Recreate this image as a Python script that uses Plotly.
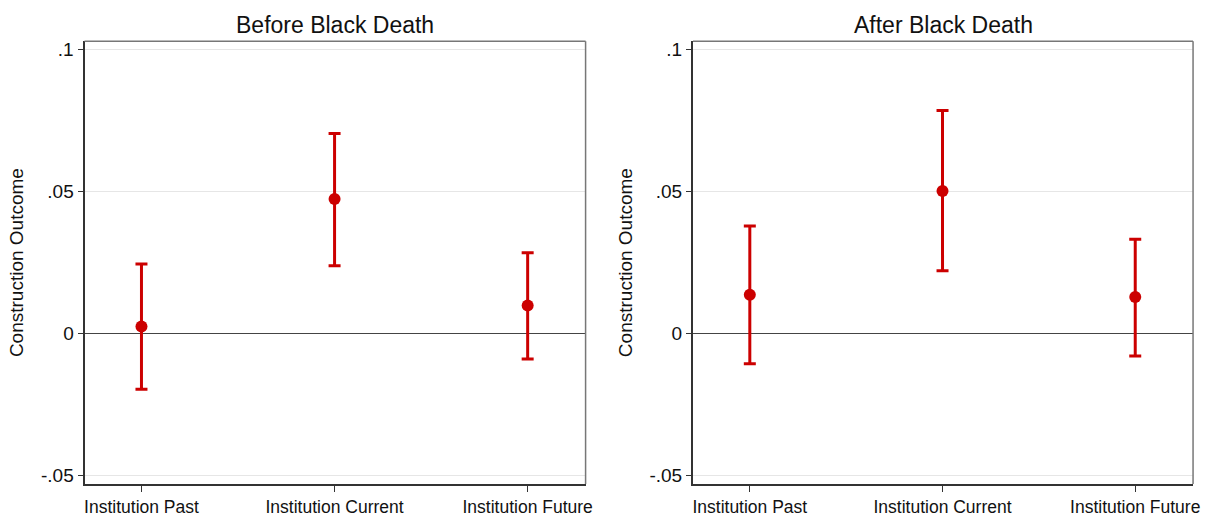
import plotly.graph_objects as go

categories = ["Institution Past", "Institution Current", "Institution Future"]

before_est = [0.0024, 0.0473, 0.0098]
before_lo = [-0.0197, 0.0238, -0.0091]
before_hi = [0.0244, 0.0704, 0.0284]

after_est = [0.0136, 0.0501, 0.0128]
after_lo = [-0.0107, 0.0220, -0.0080]
after_hi = [0.0378, 0.0785, 0.0331]

titles = ["Before Black Death", "After Black Death"]
y_ticks = [-0.05, 0, 0.05, 0.1]
y_ticktext = ["-.05", "0", ".05", ".1"]

RED = "#cc0000"
FONT = "Liberation Sans, Arial, Helvetica, sans-serif"

W, H = 1209, 517

fig = go.Figure()

panels = [(before_est, before_lo, before_hi), (after_est, after_lo, after_hi)]
x_domains = [[85 / W, 589 / W], [697 / W, 1200 / W]]
y_domain = [1 - 491.5 / H, 1 - 40 / H]

for i, (est, lo, hi) in enumerate(panels):
    xa = "x" if i == 0 else "x2"
    ya = "y" if i == 0 else "y2"
    fig.add_trace(go.Scatter(
        x=categories, y=est, mode="markers",
        xaxis=xa, yaxis=ya,
        marker=dict(color=RED, size=12),
        error_y=dict(type="data", symmetric=False,
                     array=[h - e for h, e in zip(hi, est)],
                     arrayminus=[e - l for e, l in zip(est, lo)],
                     color=RED, thickness=3, width=6),
        showlegend=False,
    ))

axis_common_x = dict(
    type="category", range=[-0.295, 2.3],
    showline=True, linecolor="#333", linewidth=2,
    ticks="outside", ticklen=6, tickcolor="#333", tickwidth=1,
    showgrid=False, zeroline=False,
    tickfont=dict(family=FONT, size=17.5, color="#111"),
)
axis_common_y = dict(
    range=[-0.0531, 0.1029],
    tickvals=y_ticks, ticktext=y_ticktext,
    showline=True, linecolor="#333", linewidth=2,
    ticks="outside", ticklen=5, tickcolor="#333", tickwidth=1,
    showgrid=True, gridcolor="#e6e6e6", gridwidth=1,
    zeroline=True, zerolinecolor="#444", zerolinewidth=1,
    tickfont=dict(family=FONT, size=19, color="#111"),
    title=dict(text="Construction Outcome", font=dict(family=FONT, size=19, color="#111"), standoff=12),
    domain=y_domain,
)

fig.update_layout(
    width=W, height=H,
    margin=dict(l=0, r=0, t=0, b=0),
    paper_bgcolor="white", plot_bgcolor="white",
    xaxis=dict(axis_common_x, domain=x_domains[0], anchor="y"),
    yaxis=dict(axis_common_y, anchor="x"),
    xaxis2=dict(axis_common_x, domain=x_domains[1], anchor="y2"),
    yaxis2=dict(axis_common_y, anchor="x2"),
    font=dict(family=FONT),
)

for i, ax in enumerate(["x", "x2"]):
    ya = "y" if i == 0 else "y2"
    fig.add_shape(type="line", xref=f"{ax} domain", yref=f"{ya} domain",
                  x0=0, x1=1, y0=1, y1=1, line=dict(color="#777", width=1.5))
    fig.add_shape(type="line", xref=f"{ax} domain", yref=f"{ya} domain",
                  x0=1, x1=1, y0=0, y1=1, line=dict(color="#777", width=1.5))
    fig.add_annotation(text=titles[i], xref=f"{ax} domain", yref="paper",
                       x=0.5, y=1 - 23 / H, showarrow=False,
                       font=dict(family=FONT, size=23, color="#111"),
                       xanchor="center", yanchor="middle")

fig.write_html(
    "out.html",
    config={"displayModeBar": False},
    post_script="document.body.style.margin='0';document.body.style.padding='0';document.body.style.overflow='hidden';",
)
